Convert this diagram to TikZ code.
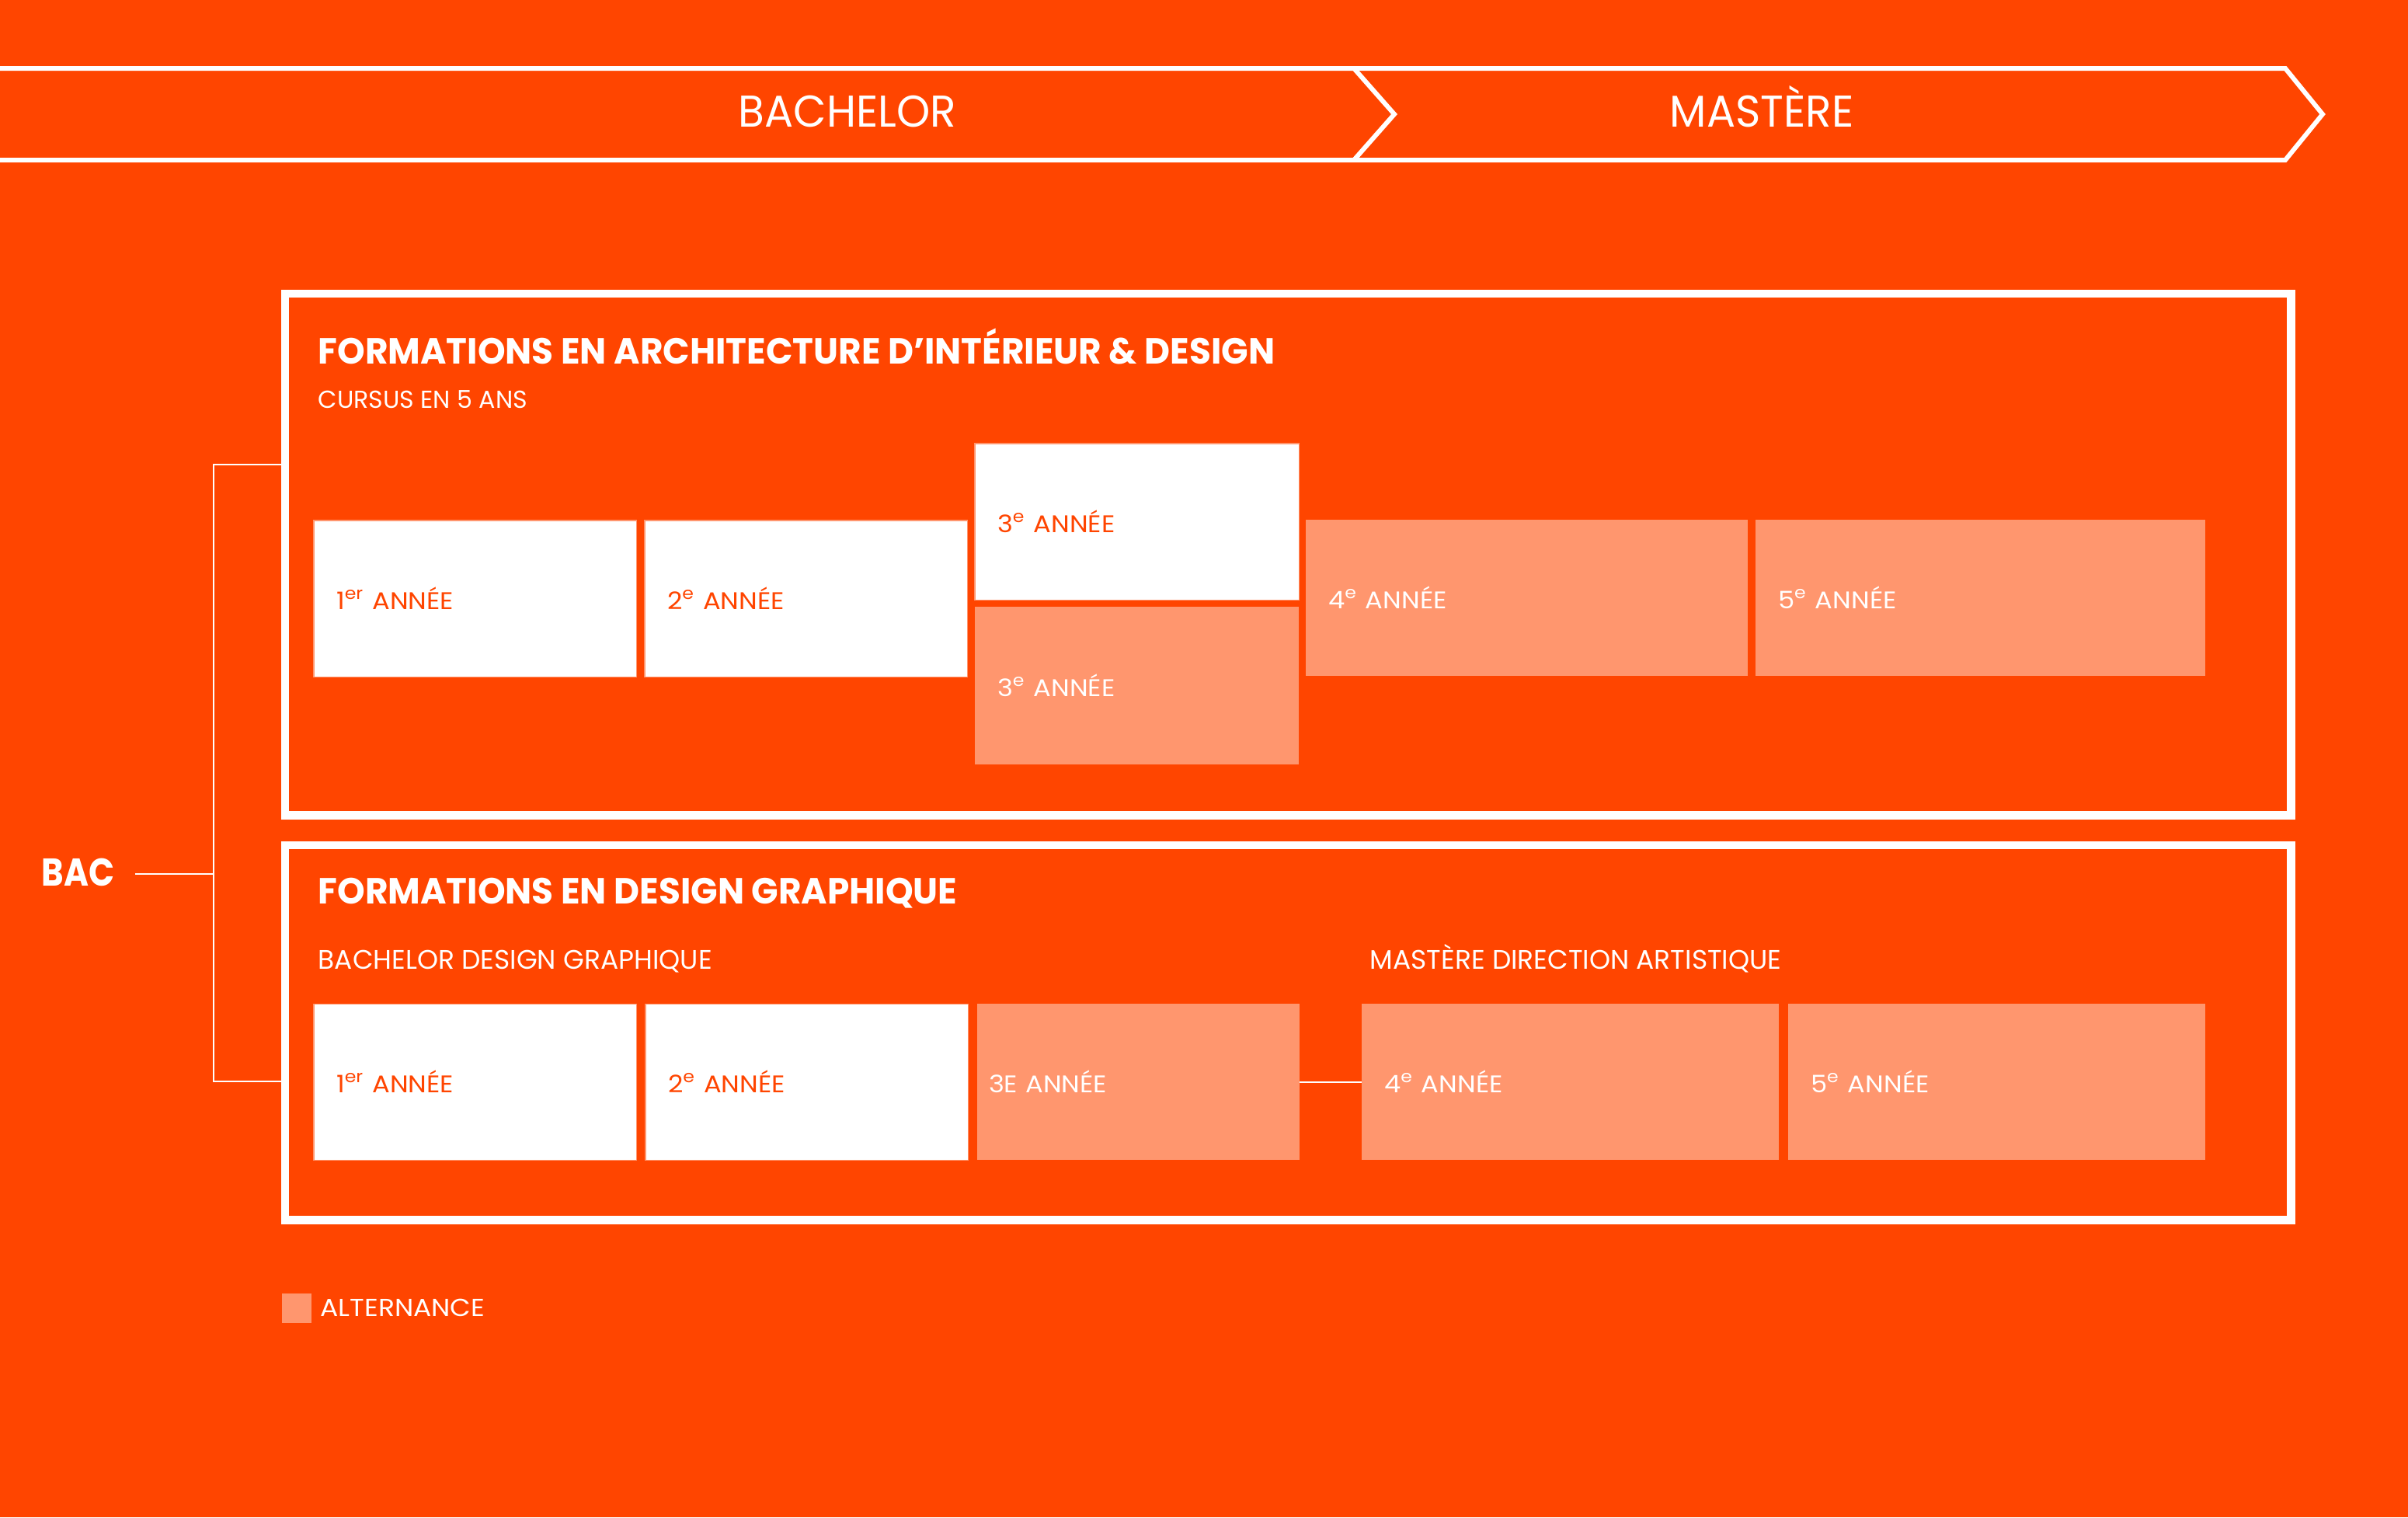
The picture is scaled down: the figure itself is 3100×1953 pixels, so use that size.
\documentclass[tikz,border=0pt]{standalone}
\usepackage{fontspec}
\setmainfont{Poppins}
\newfontfamily\titrefam[FakeStretch=0.97]{Poppins}
\newfontfamily\bacfam[FakeStretch=0.87]{Poppins}
\newfontfamily\headfam[FakeStretch=0.96]{Poppins}
\newfontfamily\semifam{Poppins}
\newfontfamily\semiwide[FakeStretch=1.09]{Poppins}
\usetikzlibrary{positioning}

\definecolor{orangebg}{RGB}{255,69,0}
\definecolor{alt}{RGB}{255,150,110}

\newcommand\entetefont{\headfam\fontsize{16.3}{18}\selectfont}
\newcommand\titrefont{\titrefam\bfseries\fontsize{13.3}{15}\selectfont}
\newcommand\sousfont{\semifam\fontsize{9.8}{11}\selectfont}
\newcommand\anneefont{\semiwide\fontsize{8.8}{10}\selectfont}

\tikzset{
  band/.style={draw=white, line width=1.7pt, line join=miter},
  frame/.style={draw=white, line width=3pt, rectangle, anchor=north west, inner sep=0pt, outer sep=0pt},
  link/.style={draw=white, line width=0.6pt},
  txt/.style={inner sep=0pt, text=white, anchor=base west},
  annee/.style={rectangle, anchor=north west, minimum height=2.01cm, inner xsep=0.29cm, inner ysep=0pt, outer sep=0pt, align=left, font=\anneefont},
  plein/.style={annee, fill=white, draw=alt, line width=0.3pt, text=orangebg},
  alt/.style={annee, fill=alt, text=white},
}

\begin{document}
\begin{tikzpicture}[x=0.01cm, y=-0.01cm]
  \useasboundingbox (0,0) rectangle (3100,1953);
  \fill[orangebg] (0,0) rectangle (3100,1953);

  % bandeau
  \draw[band] (0,88) -- (2942,88) -- (2990,147) -- (2942,206) -- (0,206);
  \draw[band] (1743,88) -- (1795,147) -- (1743,206);
  \node[txt, anchor=base, font=\entetefont] (bachelor) at (1091,163) {BACHELOR};
  \node[txt, anchor=base, font=\entetefont] (mastere) at (2268,163) {MASTÈRE};

  % architecture d'interieur
  \node[frame, minimum width=25.81cm, minimum height=6.71cm] (archi) at (367,378) {};
  \node[txt, font=\titrefont] (archititre) at (409,468) {FORMATIONS EN ARCHITECTURE D’INTÉRIEUR \& DESIGN};
  \node[txt, font=\semifam\fontsize{9}{10}\selectfont] (cursus) at (409,525) {CURSUS EN 5 ANS};
  \node[plein, text width=3.57cm] (a1) at (404,670) {1\textsuperscript{er} ANNÉE};
  \node[plein, text width=3.57cm] (a2) at (830,670) {2\textsuperscript{e} ANNÉE};
  \node[plein, text width=3.59cm] (a3) at (1255,571) {3\textsuperscript{e} ANNÉE};
  \node[alt, text width=3.59cm, minimum height=2.03cm] (a3alt) at (1255,781) {3\textsuperscript{e} ANNÉE};
  \node[alt, text width=5.11cm] (a4) at (1681,669) {4\textsuperscript{e} ANNÉE};
  \node[alt, text width=5.21cm] (a5) at (2260,669) {5\textsuperscript{e} ANNÉE};

  % design graphique
  \node[frame, minimum width=25.81cm, minimum height=4.82cm] (graph) at (367,1088) {};
  \node[txt, font=\titrefont] (graphtitre) at (409,1163) {FORMATIONS EN DESIGN GRAPHIQUE};
  \node[txt, font=\sousfont] (bachgraph) at (409,1247) {BACHELOR DESIGN GRAPHIQUE};
  \node[txt, font=\sousfont] (dirart) at (1763,1247) {MASTÈRE DIRECTION ARTISTIQUE};
  \node[plein, text width=3.57cm] (g1) at (404,1292) {1\textsuperscript{er} ANNÉE};
  \node[plein, text width=3.57cm] (g2) at (831,1292) {2\textsuperscript{e} ANNÉE};
  \node[alt, text width=3.85cm, inner xsep=0.15cm] (g3) at (1258,1292) {3E ANNÉE};
  \node[alt, text width=4.79cm] (g4) at (1753,1292) {4\textsuperscript{e} ANNÉE};
  \node[alt, text width=4.79cm] (g5) at (2302,1292) {5\textsuperscript{e} ANNÉE};
  \draw[link] (g3.east) -- (g4.west);

  % bac
  \node[txt, font=\bacfam\bfseries\fontsize{14.2}{16}\selectfont] (bac) at (53,1140) {BAC};
  \coordinate (bacend) at (174,1125);
  \coordinate (fork) at (275,1125);
  \coordinate (jarchi) at (archi.west |- 0,598);
  \coordinate (jgraph) at (graph.west |- 0,1392);
  \draw[link] (bacend) -- (fork);
  \draw[link] (jarchi) -| (fork) |- (jgraph);

  % legende
  \node[fill=alt, minimum size=0.38cm, inner sep=0pt, anchor=north west] (legcarre) at (362,1664) {};
  \node[txt, font=\semiwide\fontsize{9}{10}\selectfont] (legende) at (412,1694) {ALTERNANCE};
\end{tikzpicture}
\end{document}
